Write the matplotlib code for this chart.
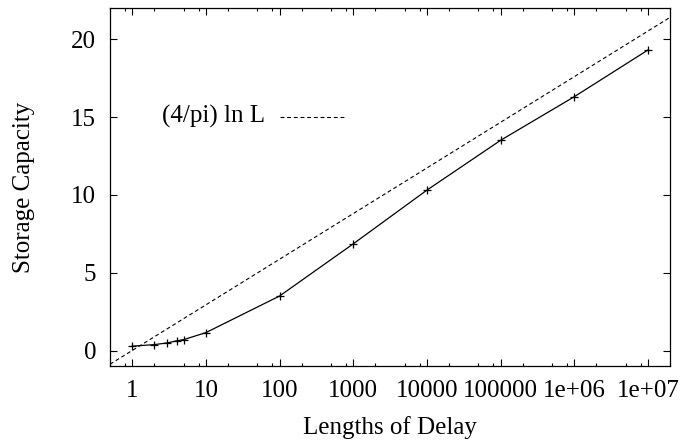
import matplotlib
matplotlib.use("Agg")
import matplotlib.pyplot as plt
from matplotlib.ticker import LogLocator, FixedLocator, FixedFormatter, NullFormatter

plt.rcParams['font.family'] = ['Liberation Serif', 'DejaVu Serif']
plt.rcParams['font.size'] = 18

# measured storage capacity vs delay length
delay = [1, 2, 3, 4, 5, 10, 100, 1000, 10000, 100000, 1e6, 1e7]
capacity = [0.28, 0.38, 0.49, 0.62, 0.70, 1.15, 3.5, 6.85, 10.3, 13.5, 16.3, 19.3]

# (4/pi) ln L reference line, read at the plot edges
ref_delay = [0.5, 2e7]
ref_capacity = [-0.88, 21.4]

xticks = [1, 10, 100, 1000, 10000, 100000, 1e6, 1e7]
xticklabels = ['1', '10', '100', '1000', '10000', '100000', '1e+06', '1e+07']
yticks = [0, 5, 10, 15, 20]

fig = plt.figure(figsize=(6.8, 4.47), dpi=100)
ax = fig.add_axes([0.1618, 0.181, 0.8235, 0.801])

ax.plot(delay, capacity, 'k-', lw=0.9, marker='+', ms=6, mew=0.9)
ax.plot(ref_delay, ref_capacity, 'k--', lw=0.8, dashes=(3.5, 2.5))

# gnuplot style key: label right aligned, sample line after it
ax.text(0.277, 0.696, '(4/pi) ln L', transform=ax.transAxes,
        ha='right', va='center')
ax.plot([0.3036, 0.4196], [0.696, 0.696], 'k--', lw=0.8, dashes=(3.5, 2.5),
        transform=ax.transAxes)

ax.set_xscale('log')
ax.set_xlim(0.5, 2e7)
ax.set_ylim(-1, 22)

ax.xaxis.set_major_locator(FixedLocator(xticks))
ax.xaxis.set_major_formatter(FixedFormatter(xticklabels))
ax.xaxis.set_minor_locator(LogLocator(base=10, subs=[2, 5, 8], numticks=20))
ax.xaxis.set_minor_formatter(NullFormatter())
ax.set_yticks(yticks)

ax.tick_params(which='both', direction='in', top=True, right=True, colors='black')
ax.tick_params(which='major', length=5, width=0.8, pad=10)
ax.tick_params(which='minor', length=2.5, width=0.8)
for s in ax.spines.values():
    s.set_linewidth(0.9)

ax.set_xlabel('Lengths of Delay', labelpad=10)
ax.set_ylabel('Storage Capacity', labelpad=26)

fig.savefig('out.png', dpi=100)
